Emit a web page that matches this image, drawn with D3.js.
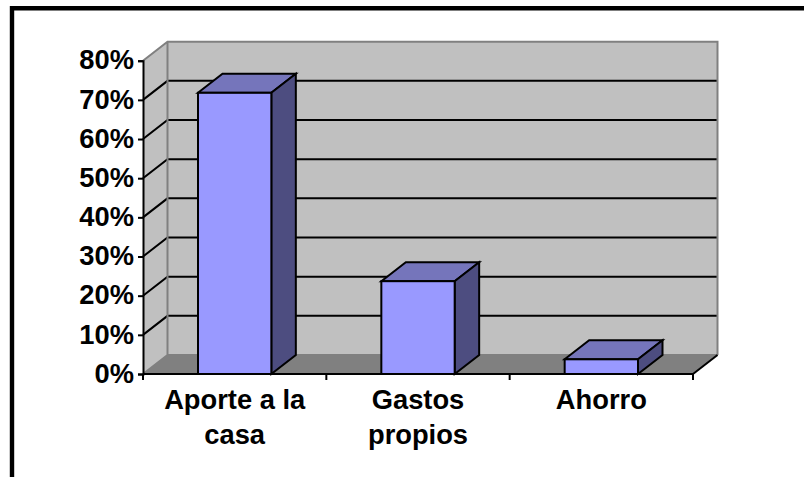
<!DOCTYPE html>
<html lang="es">
<head>
  <meta charset="UTF-8" />
  <title>Aporte a la casa, gastos propios, ahorro</title>
  <script src="https://d3js.org/d3.v7.min.js"></script>
  <style>
    body { margin: 0; background: #fff; }
    svg { display: block; }
    text { font-family: "Liberation Sans", Arial, sans-serif; font-weight: bold; fill: #000; }
  </style>
</head>
<body>
  <svg width="804" height="477"></svg>
  <script>
    const categories = ["Aporte a la casa", "Gastos propios", "Ahorro"];
    const categoryLines = [["Aporte a la", "casa"], ["Gastos", "propios"], ["Ahorro"]];
    const values = [71.8, 23.7, 3.75];
    const yTicks = [0, 10, 20, 30, 40, 50, 60, 70, 80];

    const svg = d3.select("svg");
    const depthX = 24.5, depthY = -19;
    const fontSize = 27.3;

    const x = d3.scaleBand().domain(categories).range([143, 693]).paddingInner(0.6).paddingOuter(0.3);
    const y = d3.scaleLinear().domain([0, 80]).range([374, 60.7]);

    const pts = p => p.map(d => d.join(",")).join(" ");

    // frame, only top and left are in the picture
    svg.append("path")
      .attr("d", "M12,477V8.3H804")
      .attr("fill", "none")
      .attr("stroke", "#000")
      .attr("stroke-width", 4.4);

    const x0 = x.range()[0], x1 = x.range()[1];
    const yB = y(0), yT = y(80);

    // walls
    svg.append("polygon")
      .attr("points", pts([[x0 + depthX, yT + depthY], [x1 + depthX, yT + depthY], [x1 + depthX, yB + depthY], [x0 + depthX, yB + depthY]]))
      .attr("fill", "#c0c0c0");
    svg.append("polygon")
      .attr("points", pts([[x0, yT], [x0 + depthX, yT + depthY], [x0 + depthX, yB + depthY], [x0, yB]]))
      .attr("fill", "#c0c0c0");
    svg.append("polygon")
      .attr("points", pts([[x0, yB], [x0 + depthX, yB + depthY], [x1 + depthX, yB + depthY], [x1, yB]]))
      .attr("fill", "#808080");

    // gridlines
    const grid = yTicks.filter(d => d > 0 && d < 80);
    svg.append("g").selectAll("path")
      .data(grid)
      .join("path")
      .attr("d", d => `M${x0},${y(d)}L${x0 + depthX},${y(d) + depthY}H${x1 + depthX}`)
      .attr("fill", "none")
      .attr("stroke", "#000")
      .attr("stroke-width", 2);

    // wall edges
    svg.append("path")
      .attr("d", `M${x0},${yT}L${x0 + depthX},${yT + depthY}H${x1 + depthX}V${yB + depthY}M${x0 + depthX},${yT + depthY}V${yB + depthY}L${x0},${yB}M${x0 + depthX},${yB + depthY}H${x1 + depthX}`)
      .attr("fill", "none")
      .attr("stroke", "#808080")
      .attr("stroke-width", 2);

    // floor edge on the right
    svg.append("path")
      .attr("d", `M${x1},${yB}L${x1 + depthX},${yB + depthY}`)
      .attr("stroke", "#000")
      .attr("stroke-width", 2);

    // bars
    const bars = svg.append("g").selectAll("g")
      .data(categories.map((c, i) => ({ c, v: values[i] })))
      .join("g")
      .attr("stroke", "#000")
      .attr("stroke-width", 2)
      .attr("stroke-linejoin", "miter");

    bars.append("polygon")
      .attr("fill", "#7575bb")
      .attr("points", d => {
        const l = x(d.c), r = l + x.bandwidth(), t = y(d.v);
        return pts([[l, t], [l + depthX, t + depthY], [r + depthX, t + depthY], [r, t]]);
      });
    bars.append("polygon")
      .attr("fill", "#4d4d80")
      .attr("points", d => {
        const r = x(d.c) + x.bandwidth(), t = y(d.v);
        return pts([[r, t], [r + depthX, t + depthY], [r + depthX, yB + depthY], [r, yB]]);
      });
    bars.append("rect")
      .attr("fill", "#9999ff")
      .attr("x", d => x(d.c))
      .attr("y", d => y(d.v))
      .attr("width", x.bandwidth())
      .attr("height", d => yB - y(d.v));

    // axes
    const yAxis = svg.append("g")
      .attr("transform", `translate(${x0},0)`)
      .call(d3.axisLeft(y).tickValues(yTicks).tickFormat(d => d + "%").tickSize(5).tickPadding(4));
    yAxis.selectAll("path, line").attr("stroke", "#000").attr("stroke-width", 2);
    yAxis.selectAll("text").style("font-size", fontSize + "px").attr("fill", "#000").attr("dy", "0.3em");

    const edges = categories.map((c, i) => x0 + (x1 - x0) * i / categories.length).concat(x1);
    svg.append("g").selectAll("line")
      .data(edges)
      .join("line")
      .attr("x1", d => d).attr("x2", d => d)
      .attr("y1", yB).attr("y2", yB + 6)
      .attr("stroke", "#000").attr("stroke-width", 2);
    svg.append("line")
      .attr("x1", x0).attr("x2", x1)
      .attr("y1", yB).attr("y2", yB)
      .attr("stroke", "#000").attr("stroke-width", 2);

    // category labels
    const labels = svg.append("g").selectAll("text")
      .data(categories)
      .join("text")
      .attr("text-anchor", "middle")
      .style("font-size", fontSize + "px");
    labels.selectAll("tspan")
      .data((d, i) => categoryLines[i].map((t, k) => ({ t, k, c: d })))
      .join("tspan")
      .attr("x", d => x(d.c) + x.bandwidth() / 2)
      .attr("y", d => 408.5 + d.k * 35)
      .text(d => d.t);
  </script>
</body>
</html>
